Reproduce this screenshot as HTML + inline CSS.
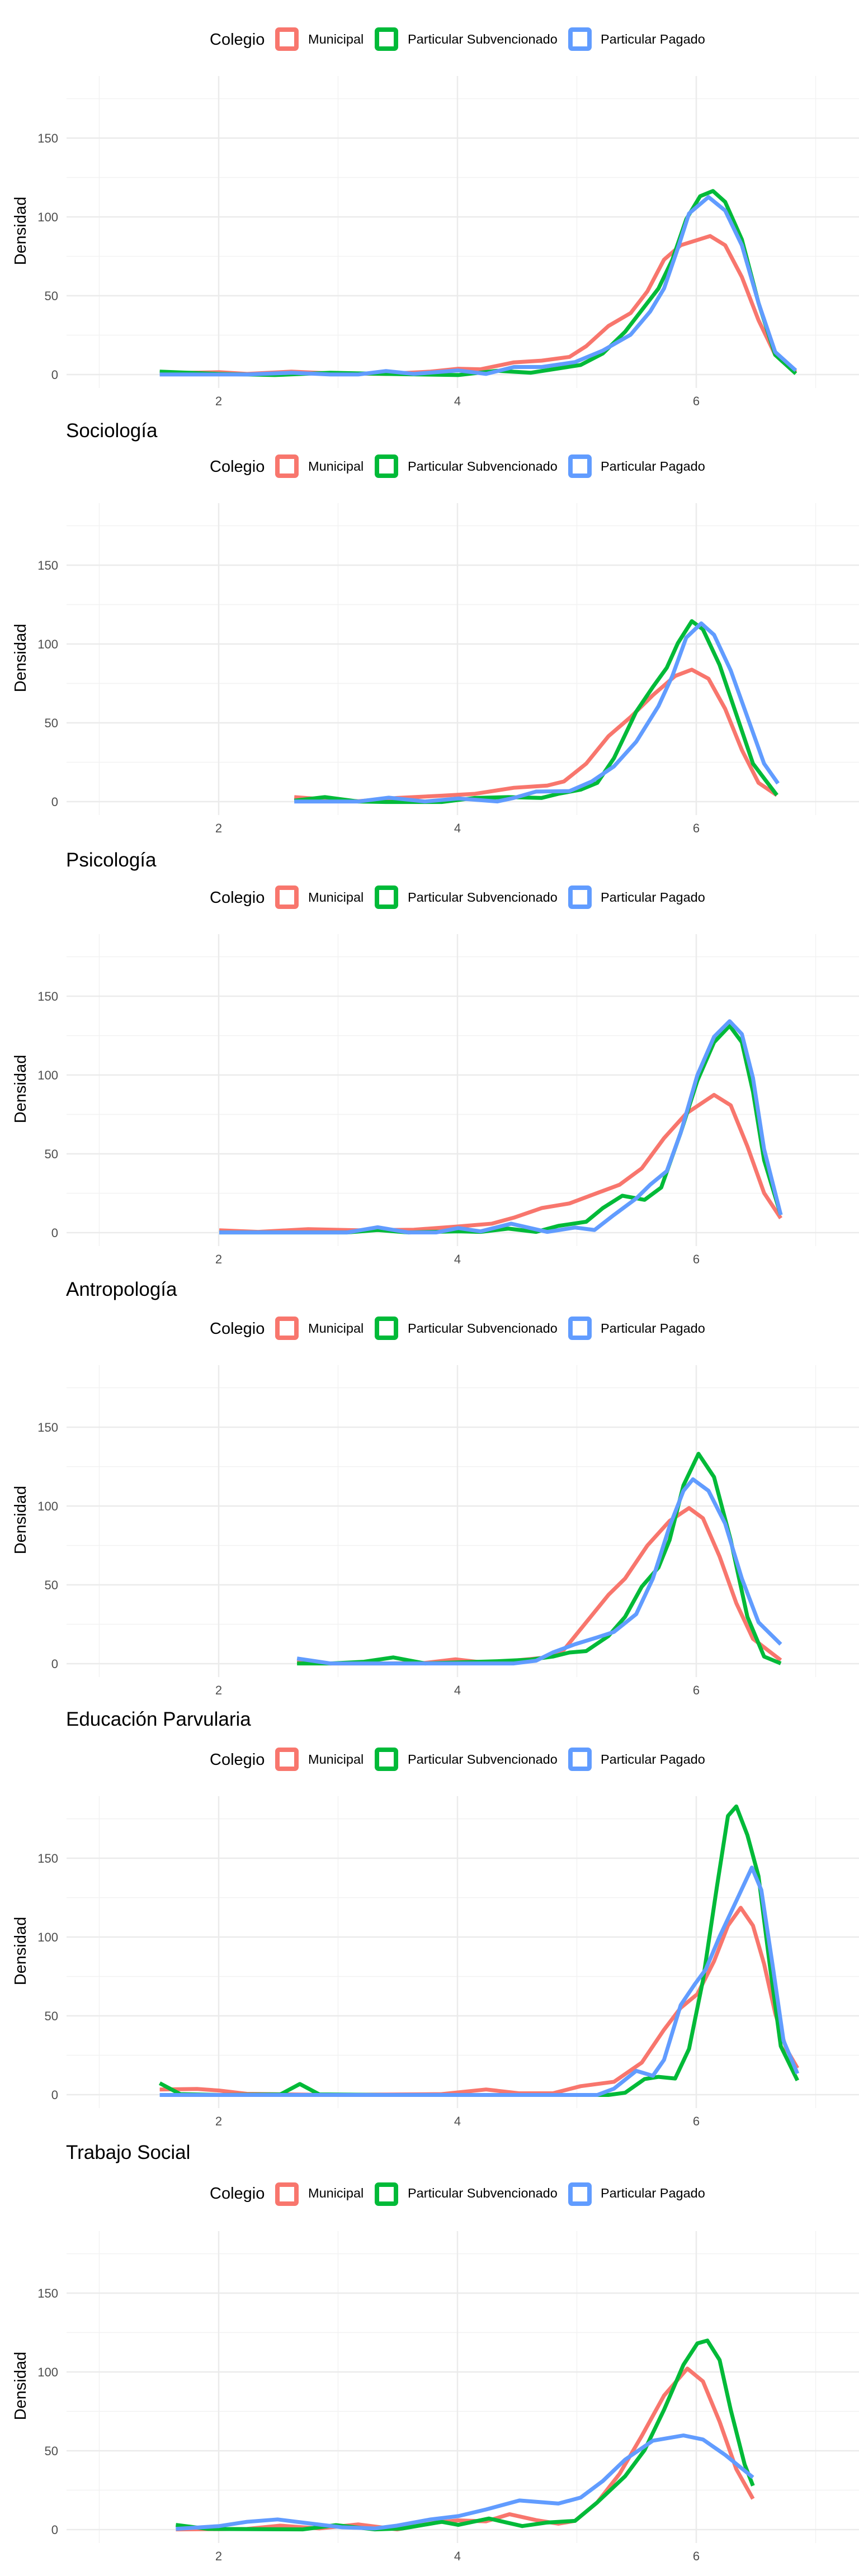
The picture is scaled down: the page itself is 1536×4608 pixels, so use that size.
<!DOCTYPE html>
<html><head><meta charset="utf-8"><style>
html,body{margin:0;padding:0;background:#fff}
svg{display:block}
text{font-family:"Liberation Sans",Arial,sans-serif}
.mj{stroke:#ebebeb;stroke-width:2.5}
.mn{stroke:#f2f2f2;stroke-width:1.4}
.yt{font-size:22px;fill:#4d4d4d;text-anchor:end}
.xt{font-size:22px;fill:#4d4d4d;text-anchor:middle}
.lg{font-size:23.5px;fill:#000}
.lt{font-size:29px;fill:#000}
.tt{font-size:35px;fill:#000}
.c{fill:none;stroke-width:7;stroke-linejoin:round;stroke-linecap:butt}
.r{stroke:#F8766D}.g{stroke:#00BA38}.b{stroke:#619CFF}
</style></head><body>
<svg width="1536" height="4608" viewBox="0 0 1536 4608" xmlns="http://www.w3.org/2000/svg">
<defs>
<g id="deco">
<line class="mn" x1="119" x2="1536" y1="-70.5" y2="-70.5"/>
<line class="mn" x1="119" x2="1536" y1="-211.5" y2="-211.5"/>
<line class="mn" x1="119" x2="1536" y1="-352.5" y2="-352.5"/>
<line class="mn" x1="119" x2="1536" y1="-493.5" y2="-493.5"/>
<line class="mn" x1="177.5" x2="177.5" y1="-534" y2="24"/>
<line class="mn" x1="604.5" x2="604.5" y1="-534" y2="24"/>
<line class="mn" x1="1031.5" x2="1031.5" y1="-534" y2="24"/>
<line class="mn" x1="1458.5" x2="1458.5" y1="-534" y2="24"/>
<line class="mj" x1="119" x2="1536" y1="0" y2="0"/>
<line class="mj" x1="119" x2="1536" y1="-141" y2="-141"/>
<line class="mj" x1="119" x2="1536" y1="-282" y2="-282"/>
<line class="mj" x1="119" x2="1536" y1="-423" y2="-423"/>
<line class="mj" x1="391" x2="391" y1="-534" y2="24"/>
<line class="mj" x1="818" x2="818" y1="-534" y2="24"/>
<line class="mj" x1="1245" x2="1245" y1="-534" y2="24"/>
<rect x="496" y="-617" width="34" height="34" rx="3" fill="none" stroke="#F8766D" stroke-width="8"/>
<rect x="674" y="-617" width="34" height="34" rx="3" fill="none" stroke="#00BA38" stroke-width="8"/>
<rect x="1020" y="-617" width="34" height="34" rx="3" fill="none" stroke="#619CFF" stroke-width="8"/>
</g>
</defs>

<!-- Panel 1 -->
<g transform="translate(0,670)">
<use href="#deco"/>
<text class="yt" x="104" y="8">0</text><text class="yt" x="104" y="-133">50</text><text class="yt" x="104" y="-274">100</text><text class="yt" x="104" y="-415">150</text>
<text class="xt" x="391" y="55">2</text><text class="xt" x="818" y="55">4</text><text class="xt" x="1245" y="55">6</text>
<text class="lt" transform="translate(46,-257) rotate(-90)" text-anchor="middle">Densidad</text>
<text class="lt" x="375" y="-590">Colegio</text>
<text class="lg" x="551" y="-592">Municipal</text><text class="lg" x="729" y="-592">Particular Subvencionado</text><text class="lg" x="1074" y="-592">Particular Pagado</text>
</g>
<g transform="matrix(0.9942 0 0 0.5161 -5.7 0)">
<polyline class="c r" vector-effect="non-scaling-stroke" points="293,1294 350,1292 400,1290 450,1296 530,1288 600,1294 700,1296 780,1288 830,1278 870,1280 930,1256 980,1250 1030,1237 1060,1200 1100,1130 1140,1085 1170,1010 1200,900 1230,850 1283,818 1310,850 1340,960 1370,1110 1400,1230 1437,1290"/>
<polyline class="c g" vector-effect="non-scaling-stroke" points="293,1288 400,1296 500,1300 600,1292 700,1296 830,1300 900,1285 960,1292 1000,1280 1050,1265 1090,1225 1130,1150 1190,1000 1215,900 1240,760 1265,680 1288,662 1310,700 1340,830 1370,1050 1400,1230 1437,1295"/>
<polyline class="c b" vector-effect="non-scaling-stroke" points="293,1298 450,1298 530,1292 600,1298 650,1298 700,1286 750,1296 830,1284 880,1296 930,1272 980,1272 1040,1255 1090,1215 1140,1160 1175,1080 1200,1000 1225,860 1245,740 1280,683 1310,730 1340,850 1370,1050 1400,1220 1437,1284"/>
</g>

<!-- Panel 2 -->
<g transform="translate(0,1434)">
<use href="#deco"/>
<text class="tt" x="118" y="-652">Sociología</text>
<text class="yt" x="104" y="8">0</text><text class="yt" x="104" y="-133">50</text><text class="yt" x="104" y="-274">100</text><text class="yt" x="104" y="-415">150</text>
<text class="xt" x="391" y="55">2</text><text class="xt" x="818" y="55">4</text><text class="xt" x="1245" y="55">6</text>
<text class="lt" transform="translate(46,-257) rotate(-90)" text-anchor="middle">Densidad</text>
<text class="lt" x="375" y="-590">Colegio</text>
<text class="lg" x="551" y="-592">Municipal</text><text class="lg" x="729" y="-592">Particular Subvencionado</text><text class="lg" x="1074" y="-592">Particular Pagado</text>
</g>
<g transform="matrix(0.9942 0 0 0.4902 -5.7 768)">
<polyline class="c r" vector-effect="non-scaling-stroke" points="535,1342 600,1352 650,1357 720,1345 800,1337 860,1330 930,1308 990,1300 1020,1285 1060,1220 1100,1120 1140,1050 1180,970 1220,900 1250,877 1280,910 1310,1020 1340,1170 1370,1290 1403,1335"/>
<polyline class="c g" vector-effect="non-scaling-stroke" points="535,1355 590,1342 650,1358 700,1360 800,1360 860,1345 920,1342 980,1345 1010,1330 1050,1315 1080,1290 1110,1200 1150,1030 1180,940 1205,870 1225,780 1250,700 1270,730 1300,860 1330,1040 1360,1220 1403,1335"/>
<polyline class="c b" vector-effect="non-scaling-stroke" points="535,1358 650,1358 705,1344 770,1358 830,1347 900,1358 930,1345 970,1322 1030,1320 1070,1285 1110,1230 1150,1140 1190,1010 1215,900 1240,760 1267,708 1290,750 1320,880 1350,1050 1380,1220 1405,1292"/>
</g>

<!-- Panel 3 -->
<g transform="translate(0,2205)">
<use href="#deco"/>
<text class="tt" x="118" y="-655">Psicología</text>
<text class="yt" x="104" y="8">0</text><text class="yt" x="104" y="-133">50</text><text class="yt" x="104" y="-274">100</text><text class="yt" x="104" y="-415">150</text>
<text class="xt" x="391" y="55">2</text><text class="xt" x="818" y="55">4</text><text class="xt" x="1245" y="55">6</text>
<text class="lt" transform="translate(46,-257) rotate(-90)" text-anchor="middle">Densidad</text>
<text class="lt" x="375" y="-590">Colegio</text>
<text class="lg" x="551" y="-592">Municipal</text><text class="lg" x="729" y="-592">Particular Subvencionado</text><text class="lg" x="1074" y="-592">Particular Pagado</text>
</g>
<g transform="matrix(0.9942 0 0 0.4902 -5.7 1536)">
<polyline class="c r" vector-effect="non-scaling-stroke" points="400,1356 470,1362 560,1352 650,1356 750,1354 830,1342 890,1332 930,1310 980,1275 1030,1258 1080,1220 1120,1190 1160,1130 1200,1020 1240,930 1290,862 1320,900 1350,1050 1380,1220 1410,1312"/>
<polyline class="c g" vector-effect="non-scaling-stroke" points="400,1364 630,1364 685,1355 740,1364 830,1360 870,1362 920,1350 970,1362 1010,1340 1060,1325 1090,1275 1125,1230 1165,1245 1195,1200 1230,1000 1260,810 1290,670 1318,610 1340,670 1360,850 1380,1100 1410,1300"/>
<polyline class="c b" vector-effect="non-scaling-stroke" points="400,1364 630,1364 685,1345 740,1364 790,1364 830,1348 870,1360 925,1332 990,1362 1040,1346 1075,1355 1110,1300 1150,1240 1175,1190 1205,1140 1230,1000 1260,790 1290,650 1318,593 1340,640 1360,800 1380,1060 1410,1300"/>
</g>

<!-- Panel 4 -->
<g transform="translate(0,2976)">
<use href="#deco"/>
<text class="tt" x="118" y="-658">Antropología</text>
<text class="yt" x="104" y="8">0</text><text class="yt" x="104" y="-133">50</text><text class="yt" x="104" y="-274">100</text><text class="yt" x="104" y="-415">150</text>
<text class="xt" x="391" y="55">2</text><text class="xt" x="818" y="55">4</text><text class="xt" x="1245" y="55">6</text>
<text class="lt" transform="translate(46,-257) rotate(-90)" text-anchor="middle">Densidad</text>
<text class="lt" x="375" y="-590">Colegio</text>
<text class="lg" x="551" y="-592">Municipal</text><text class="lg" x="729" y="-592">Particular Subvencionado</text><text class="lg" x="1074" y="-592">Particular Pagado</text>
</g>
<g transform="matrix(0.9942 0 0 0.4902 -5.7 2304)">
<polyline class="c r" vector-effect="non-scaling-stroke" points="540,1365 600,1370 700,1370 770,1368 825,1355 880,1368 930,1360 980,1350 1020,1320 1060,1220 1100,1120 1130,1060 1170,940 1210,850 1245,803 1270,840 1300,980 1330,1150 1360,1280 1410,1358"/>
<polyline class="c g" vector-effect="non-scaling-stroke" points="540,1370 600,1370 660,1364 713,1348 770,1370 900,1362 960,1356 1000,1345 1030,1330 1060,1325 1100,1270 1130,1200 1160,1090 1190,1020 1210,920 1235,720 1262,605 1290,690 1320,920 1350,1200 1380,1345 1410,1370"/>
<polyline class="c b" vector-effect="non-scaling-stroke" points="540,1352 600,1370 700,1370 930,1370 970,1360 1000,1330 1040,1300 1080,1275 1110,1255 1150,1190 1180,1060 1210,870 1235,740 1252,698 1280,740 1310,860 1340,1060 1370,1220 1410,1300"/>
</g>

<!-- Panel 5 -->
<g transform="translate(0,3747)">
<use href="#deco"/>
<text class="tt" x="118" y="-660">Educación Parvularia</text>
<text class="yt" x="104" y="8">0</text><text class="yt" x="104" y="-133">50</text><text class="yt" x="104" y="-274">100</text><text class="yt" x="104" y="-415">150</text>
<text class="xt" x="391" y="55">2</text><text class="xt" x="818" y="55">4</text><text class="xt" x="1245" y="55">6</text>
<text class="lt" transform="translate(46,-257) rotate(-90)" text-anchor="middle">Densidad</text>
<text class="lt" x="375" y="-590">Colegio</text>
<text class="lg" x="551" y="-592">Municipal</text><text class="lg" x="729" y="-592">Particular Subvencionado</text><text class="lg" x="1074" y="-592">Particular Pagado</text>
</g>
<g transform="matrix(0.9942 0 0 0.4902 -5.7 3072)">
<polyline class="c r" vector-effect="non-scaling-stroke" points="293,1358 360,1356 400,1362 450,1374 600,1378 800,1375 880,1358 940,1372 1000,1372 1050,1346 1110,1330 1160,1260 1200,1140 1230,1060 1260,1010 1290,890 1315,760 1338,695 1360,760 1380,900 1400,1080 1420,1210 1440,1280"/>
<polyline class="c g" vector-effect="non-scaling-stroke" points="293,1335 330,1375 400,1378 510,1376 545,1338 580,1376 700,1378 1100,1378 1130,1370 1165,1320 1190,1312 1220,1318 1245,1210 1270,960 1295,620 1315,360 1330,325 1350,430 1370,580 1390,900 1410,1200 1440,1325"/>
<polyline class="c b" vector-effect="non-scaling-stroke" points="293,1378 1080,1378 1110,1355 1150,1290 1180,1308 1200,1250 1230,1050 1255,975 1275,920 1300,800 1330,670 1358,548 1375,630 1395,900 1415,1180 1440,1300"/>
</g>

<!-- Panel 6 -->
<g transform="translate(0,4525)">
<use href="#deco"/>
<text class="tt" x="118" y="-663">Trabajo Social</text>
<text class="yt" x="104" y="8">0</text><text class="yt" x="104" y="-133">50</text><text class="yt" x="104" y="-274">100</text><text class="yt" x="104" y="-415">150</text>
<text class="xt" x="391" y="55">2</text><text class="xt" x="818" y="55">4</text><text class="xt" x="1245" y="55">6</text>
<text class="lt" transform="translate(46,-257) rotate(-90)" text-anchor="middle">Densidad</text>
<text class="lt" x="375" y="-592">Colegio</text>
<text class="lg" x="551" y="-594">Municipal</text><text class="lg" x="729" y="-594">Particular Subvencionado</text><text class="lg" x="1074" y="-594">Particular Pagado</text>
</g>
<g transform="matrix(0.9942 0 0 0.4244 -5.7 3950)">
<polyline class="c r" vector-effect="non-scaling-stroke" points="322,1354 450,1352 510,1338 580,1350 650,1333 720,1354 790,1325 830,1316 880,1320 922,1290 970,1315 1010,1330 1040,1318 1080,1240 1120,1120 1160,960 1200,790 1242,676 1270,730 1300,900 1330,1100 1360,1225"/>
<polyline class="c g" vector-effect="non-scaling-stroke" points="322,1335 380,1352 550,1354 610,1336 680,1354 730,1350 800,1322 830,1335 885,1308 945,1340 990,1325 1040,1318 1080,1240 1130,1130 1165,1020 1200,850 1235,660 1260,570 1278,558 1300,640 1320,850 1345,1080 1360,1170"/>
<polyline class="c b" vector-effect="non-scaling-stroke" points="322,1352 400,1340 450,1322 505,1312 560,1328 620,1345 680,1350 720,1338 780,1312 830,1298 880,1270 940,1232 1010,1245 1050,1220 1090,1150 1130,1060 1180,980 1235,958 1270,975 1310,1040 1360,1135"/>
</g>
</svg>
</body></html>
